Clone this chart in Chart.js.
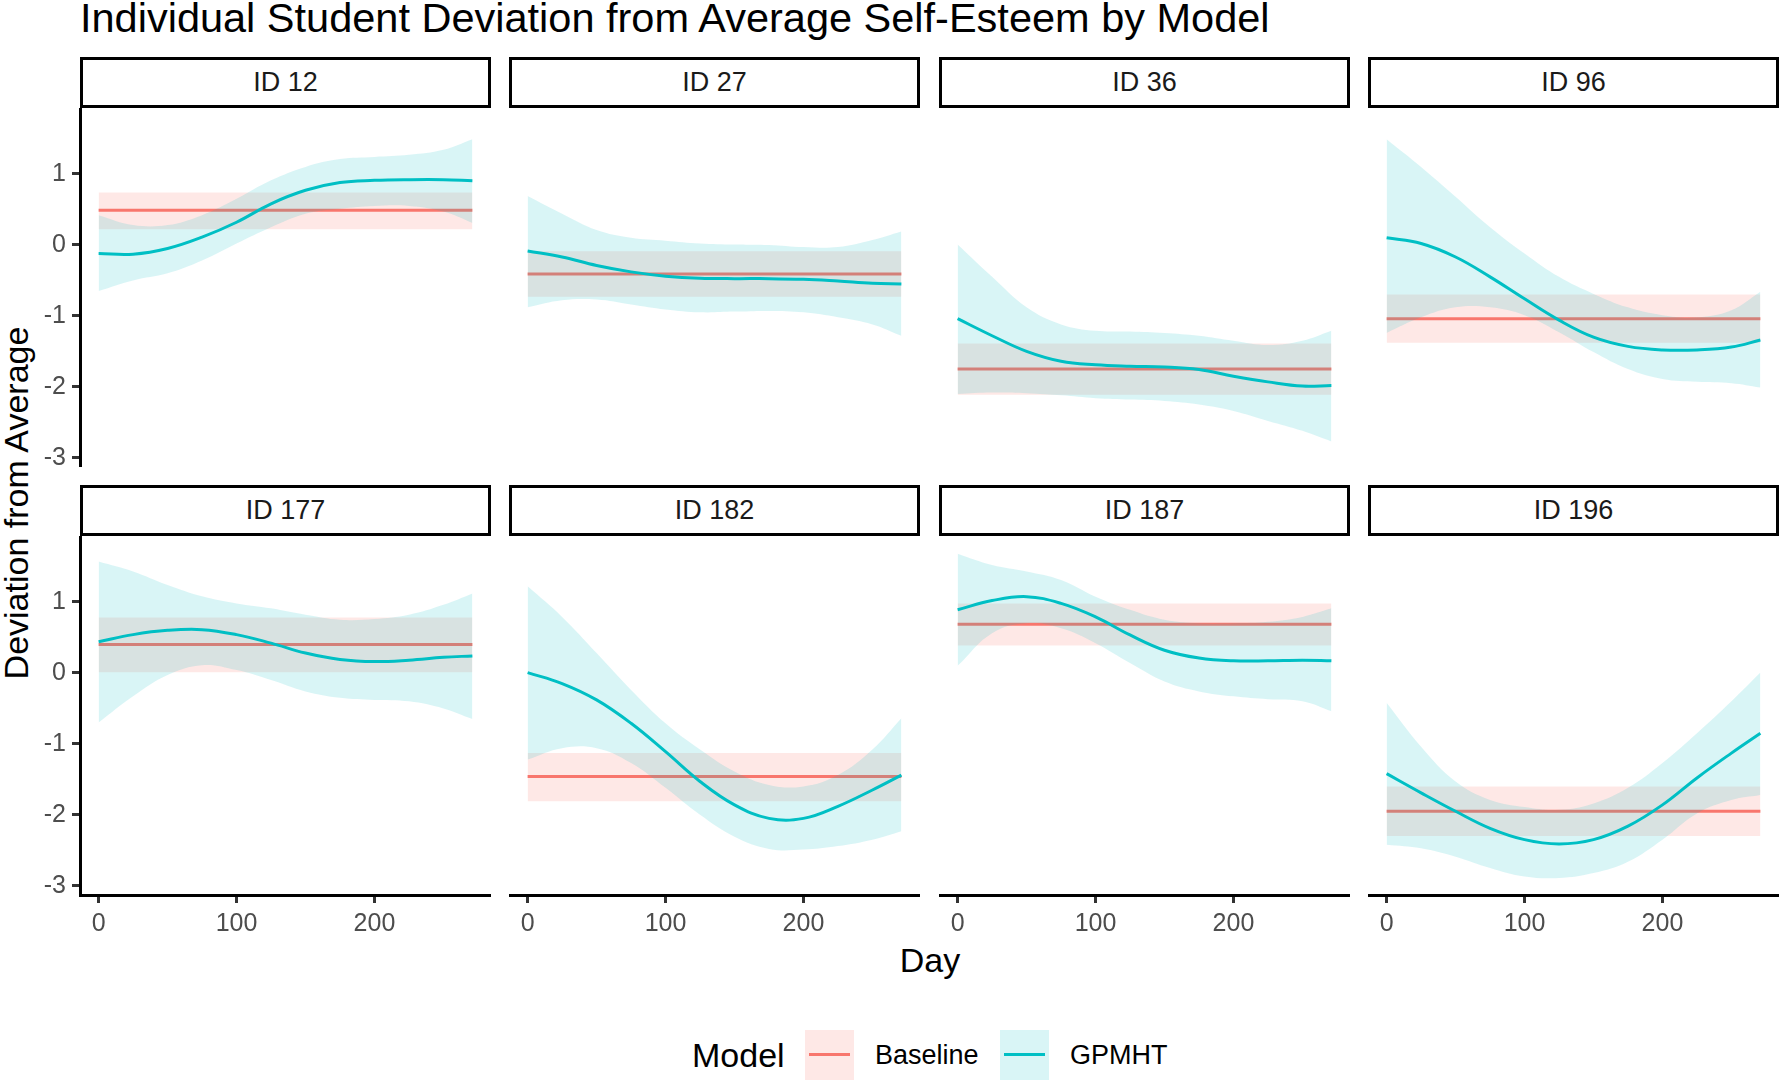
<!DOCTYPE html>
<html>
<head>
<meta charset="utf-8">
<title>Individual Student Deviation from Average Self-Esteem by Model</title>
<script src="https://cdn.jsdelivr.net/npm/chart.js@4.4.1/dist/chart.umd.min.js"></script>
<style>
  html, body { margin: 0; padding: 0; background: #fff; }
  body {
    position: relative; width: 1781px; height: 1081px; overflow: hidden;
    font-family: "Liberation Sans", Arial, Helvetica, sans-serif; color: #000;
  }
  canvas { position: absolute; }
  .title { position: absolute; left: 80px; top: -3px; font-size: 41.5px; line-height: 41px; white-space: nowrap; }
  .strip {
    position: absolute; box-sizing: border-box; height: 51px; border: 3px solid #000;
    display: flex; align-items: center; justify-content: center;
    font-size: 27px; line-height: 27px; color: #1a1a1a; background: #fff;
  }
  .axis-title { position: absolute; font-size: 34px; line-height: 34px; white-space: nowrap; }
  .ytitle { left: 16px; top: 503px; transform: translate(-50%, -50%) rotate(-90deg); }
  .xtitle { left: 930px; top: 960px; transform: translate(-50%, -50%); }
  .legend-title { position: absolute; left: 692px; top: 1038px; font-size: 34px; line-height: 34px; }
  .key { position: absolute; top: 1030px; width: 49px; height: 50px; }
  .key span { position: absolute; left: 4px; right: 4px; top: 23px; height: 3px; }
  .legend-label { position: absolute; top: 1042px; font-size: 27px; line-height: 27px; }
</style>
</head>
<body>
<div class="title">Individual Student Deviation from Average Self-Esteem by Model</div>
<div class="axis-title ytitle">Deviation from Average</div>
<div class="axis-title xtitle">Day</div>

<div class="legend-title">Model</div>
<div class="key" style="left:805px; background:rgba(248,118,109,0.17);"><span style="background:#F8766D;"></span></div>
<div class="legend-label" style="left:875px;">Baseline</div>
<div class="key" style="left:1000px; background:rgba(0,191,196,0.15);"><span style="background:#00BFC4;"></span></div>
<div class="legend-label" style="left:1070px;">GPMHT</div>

<script>
// ── Data ──────────────────────────────────────────────────────
const IDS = ['ID 12', 'ID 27', 'ID 36', 'ID 96', 'ID 177', 'ID 182', 'ID 187', 'ID 196'];
const DAYS = [0, 25, 50, 75, 100, 125, 150, 175, 200, 225, 250, 271];
const X_TICKS = [0, 100, 200];
const Y_TICKS = [-3, -2, -1, 0, 1];

// GPMHT fitted mean per student
const GP_MEAN = [
    [-0.12, -0.13, -0.05, 0.11, 0.32, 0.58, 0.77, 0.88, 0.91, 0.92, 0.92, 0.905],
    [-0.085, -0.17, -0.29, -0.38, -0.44, -0.47, -0.475, -0.475, -0.485, -0.51, -0.54, -0.55],
    [-1.04, -1.28, -1.50, -1.64, -1.69, -1.71, -1.72, -1.756, -1.85, -1.93, -1.99, -1.98],
    [0.10, 0.02, -0.17, -0.45, -0.76, -1.06, -1.30, -1.43, -1.48, -1.48, -1.44, -1.34],
    [0.44, 0.54, 0.60, 0.61, 0.54, 0.42, 0.28, 0.19, 0.16, 0.18, 0.22, 0.24],
    [0.005, -0.15, -0.38, -0.71, -1.11, -1.53, -1.86, -2.05, -2.05, -1.88, -1.65, -1.44],
    [0.89, 1.02, 1.075, 0.98, 0.79, 0.535, 0.32, 0.21, 0.17, 0.17, 0.18, 0.17],
    [-1.42, -1.69, -1.95, -2.19, -2.35, -2.41, -2.35, -2.16, -1.86, -1.48, -1.13, -0.85],
];
// GPMHT upper band
const GP_HIGH = [
    [0.42, 0.28, 0.28, 0.42, 0.65, 0.91, 1.10, 1.21, 1.24, 1.27, 1.34, 1.49],
    [0.69, 0.44, 0.21, 0.10, 0.06, 0.02, 0.005, 0.0, -0.03, -0.03, 0.07, 0.19],
    [0.005, -0.45, -0.88, -1.12, -1.21, -1.22, -1.24, -1.28, -1.35, -1.41, -1.35, -1.21],
    [1.49, 1.10, 0.68, 0.25, -0.12, -0.45, -0.69, -0.88, -0.99, -1.02, -0.92, -0.66],
    [1.57, 1.43, 1.24, 1.08, 0.98, 0.91, 0.82, 0.75, 0.76, 0.82, 0.96, 1.12],
    [1.22, 0.79, 0.28, -0.24, -0.71, -1.08, -1.39, -1.58, -1.60, -1.44, -1.08, -0.64],
    [1.68, 1.52, 1.43, 1.31, 1.075, 0.89, 0.75, 0.70, 0.70, 0.72, 0.79, 0.91],
    [-0.42, -1.04, -1.53, -1.79, -1.89, -1.93, -1.84, -1.62, -1.27, -0.85, -0.40, 0.005],
];
// GPMHT lower band
const GP_LOW = [
    [-0.65, -0.50, -0.40, -0.22, 0.02, 0.25, 0.44, 0.51, 0.55, 0.55, 0.47, 0.31],
    [-0.88, -0.78, -0.77, -0.84, -0.91, -0.95, -0.94, -0.93, -0.95, -1.02, -1.12, -1.28],
    [-2.10, -2.08, -2.09, -2.12, -2.16, -2.18, -2.20, -2.25, -2.34, -2.48, -2.62, -2.77],
    [-1.24, -1.02, -0.88, -0.88, -0.99, -1.23, -1.51, -1.75, -1.89, -1.93, -1.95, -2.01],
    [-0.70, -0.33, -0.03, 0.11, 0.04, -0.10, -0.26, -0.35, -0.38, -0.40, -0.50, -0.65],
    [-1.22, -1.06, -1.06, -1.27, -1.62, -2.00, -2.31, -2.48, -2.49, -2.44, -2.35, -2.23],
    [0.10, 0.56, 0.70, 0.63, 0.42, 0.14, -0.12, -0.26, -0.33, -0.37, -0.40, -0.54],
    [-2.42, -2.47, -2.59, -2.75, -2.87, -2.89, -2.82, -2.66, -2.35, -1.98, -1.79, -1.72],
];
// Baseline model: constant estimate with band
const BASE_MID  = [0.49, -0.41, -1.75, -1.04, 0.40, -1.46, 0.685, -1.95];
const BASE_HIGH = [0.74, -0.09, -1.39, -0.70, 0.78, -1.13, 0.98, -1.60];
const BASE_LOW  = [0.22, -0.73, -2.11, -1.38, 0.01, -1.81, 0.385, -2.30];

// ── Layout ────────────────────────────────────────────────────
const FONT = '"Liberation Sans", Arial, Helvetica, sans-serif';
const PANEL_LEFT = [80, 509, 939, 1368];
const PANEL_TOP = [108, 536];
const PANEL_W = 411;
const PANEL_H = 359;
const Y_AXIS_W = 80;
const X_AXIS_H = 56;
const X_MIN = -13.5, X_MAX = 284.5;
const Y_MIN = -3.13, Y_MAX = 1.93;

const RED = '#F8766D';
const CYAN = '#00BFC4';
const SMOOTH = 0.4;

function pts(values) {
    return DAYS.map((d, i) => ({ x: d, y: values[i] }));
}
function flat(v) {
    return [{ x: DAYS[0], y: v }, { x: DAYS[DAYS.length - 1], y: v }];
}
// keep the plot area fixed: no extra room for overhanging tick labels
function noPad(s) {
    s.paddingTop = 0; s.paddingBottom = 0; s.paddingLeft = 0; s.paddingRight = 0;
}

function makePanel(i) {
    const row = Math.floor(i / 4), col = i % 4;
    const left = PANEL_LEFT[col], top = PANEL_TOP[row];
    const padL = col === 0 ? Y_AXIS_W : 0;
    const padB = row === 1 ? X_AXIS_H : 0;

    // strip label
    const strip = document.createElement('div');
    strip.className = 'strip';
    strip.style.left = left + 'px';
    strip.style.top = (top - 51) + 'px';
    strip.style.width = PANEL_W + 'px';
    strip.textContent = IDS[i];
    document.body.appendChild(strip);

    const canvas = document.createElement('canvas');
    canvas.width = PANEL_W + padL;
    canvas.height = PANEL_H + padB;
    canvas.style.left = (left - padL) + 'px';
    canvas.style.top = top + 'px';
    document.body.appendChild(canvas);

    const band = { pointRadius: 0, borderWidth: 0, borderColor: 'rgba(0,0,0,0)', tension: SMOOTH };

    new Chart(canvas, {
        type: 'line',
        data: {
            datasets: [
                { label: 'GPMHT', data: pts(GP_MEAN[i]), borderColor: CYAN, borderWidth: 3, pointRadius: 0,
                  tension: SMOOTH, fill: false, order: 1 },
                { ...band, data: pts(GP_HIGH[i]), fill: '+1', backgroundColor: 'rgba(0,191,196,0.15)', order: 2 },
                { ...band, data: pts(GP_LOW[i]), fill: false, order: 2 },
                { label: 'Baseline', data: flat(BASE_MID[i]), borderColor: RED, borderWidth: 3, pointRadius: 0,
                  fill: false, order: 3 },
                { ...band, data: flat(BASE_HIGH[i]), fill: '+1', backgroundColor: 'rgba(248,118,109,0.17)', order: 4 },
                { ...band, data: flat(BASE_LOW[i]), fill: false, order: 4 },
            ],
        },
        options: {
            responsive: false,
            animation: false,
            events: [],
            layout: { padding: 0 },
            plugins: { legend: { display: false }, tooltip: { enabled: false }, title: { display: false } },
            scales: {
                x: {
                    type: 'linear', min: X_MIN, max: X_MAX, display: row === 1,
                    afterBuildTicks: s => { s.ticks = X_TICKS.map(v => ({ value: v })); },
                    afterFit: s => { s.height = padB; noPad(s); },
                    grid: { drawOnChartArea: false, tickLength: 8, tickWidth: 3, tickColor: '#333333' },
                    border: { display: true, color: '#000', width: 3 },
                    ticks: { color: '#4d4d4d', font: { family: FONT, size: 25 }, padding: 6, maxRotation: 0 },
                },
                y: {
                    type: 'linear', min: Y_MIN, max: Y_MAX, display: col === 0,
                    afterBuildTicks: s => { s.ticks = Y_TICKS.map(v => ({ value: v })); },
                    afterFit: s => { s.width = padL; noPad(s); },
                    grid: { drawOnChartArea: false, tickLength: 8, tickWidth: 3, tickColor: '#333333' },
                    border: { display: true, color: '#000', width: 3 },
                    ticks: { color: '#4d4d4d', font: { family: FONT, size: 25 }, padding: 6 },
                },
            },
        },
    });
}

IDS.forEach((_, i) => makePanel(i));
</script>
</body>
</html>
